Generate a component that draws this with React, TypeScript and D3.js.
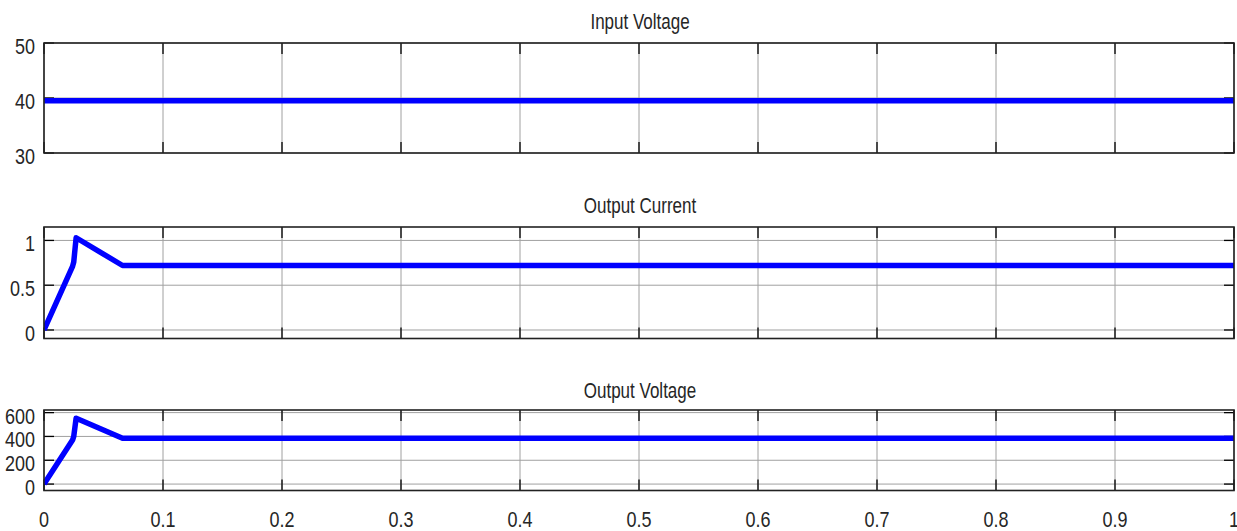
import React from 'react';
import * as d3 from 'd3';

// values
const time = [0, 0.024, 0.025, 0.027, 0.066, 1];
const inputTime = [0, 1];
const inputVoltage = [39.5, 39.5];
const outputCurrent = [0, 0.71, 0.76, 1.03, 0.72, 0.72];
const outputVoltage = [0, 370, 400, 553, 385, 385];

const xTicks = [0, 0.1, 0.2, 0.3, 0.4, 0.5, 0.6, 0.7, 0.8, 0.9, 1];
const xTickLabels = ['0', '0.1', '0.2', '0.3', '0.4', '0.5', '0.6', '0.7', '0.8', '0.9', '1'];

const titles = ['Input Voltage', 'Output Current', 'Output Voltage'];
const yTicks1 = [30, 40, 50];
const yTicks2 = [0, 0.5, 1];
const yTicks3 = [0, 200, 400, 600];

const width = 1237;
const height = 531;
const left = 44;
const right = 1234;
const textColor = '#262626';
const font = '"Liberation Sans", Arial, sans-serif';

const panels = [
  { title: titles[0], xs: inputTime, ys: inputVoltage, domain: [30, 50], ticks: yTicks1, top: 43, bottom: 153, titleY: 29 },
  { title: titles[1], xs: time, ys: outputCurrent, domain: [-0.095, 1.15], ticks: yTicks2, top: 227, bottom: 338.5, titleY: 213 },
  { title: titles[2], xs: time, ys: outputVoltage, domain: [-54, 622], ticks: yTicks3, top: 410, bottom: 490.5, titleY: 398 },
];

const Label = ({ x, y, anchor, size, sy, children }) => (
  <text
    transform={`translate(${x},${y}) scale(1,${sy})`}
    textAnchor={anchor}
    fontFamily={font}
    fontSize={size}
    fill={textColor}
  >
    {children}
  </text>
);

const App = () => {
  const xScale = d3.scaleLinear().domain([0, 1]).range([left, right]);

  return (
    <svg width={width} height={height} style={{ position: 'absolute', left: 0, top: 0, background: '#fff' }}>
      <rect x={0} y={0} width={width} height={height} fill="#fff" />
      {panels.map((p, i) => {
        const yScale = d3.scaleLinear().domain(p.domain).range([p.bottom, p.top]);
        const line = d3.line<number>()
          .x((_, j) => xScale(p.xs[j]))
          .y((d) => yScale(d));
        const clipId = `clip-${i}`;
        return (
          <g key={i}>
            <defs>
              <clipPath id={clipId}>
                <rect x={left} y={p.top} width={right - left} height={p.bottom - p.top} />
              </clipPath>
            </defs>
            {/* grid */}
            {xTicks.map((t) => (
              <line key={'gx' + t} x1={xScale(t)} x2={xScale(t)} y1={p.top} y2={p.bottom} stroke="#a0a0a0" strokeWidth={1} />
            ))}
            {p.ticks.map((t) => (
              <line key={'gy' + t} x1={left} x2={right} y1={yScale(t)} y2={yScale(t)} stroke="#a0a0a0" strokeWidth={1} />
            ))}
            {/* inner ticks */}
            {xTicks.map((t) => (
              <g key={'tx' + t}>
                <line x1={xScale(t)} x2={xScale(t)} y1={p.top} y2={p.top + 11} stroke="#000" strokeWidth={1.3} />
                <line x1={xScale(t)} x2={xScale(t)} y1={p.bottom} y2={p.bottom - 11} stroke="#000" strokeWidth={1.3} />
              </g>
            ))}
            {p.ticks.map((t) => (
              <g key={'ty' + t}>
                <line x1={left} x2={left + 10} y1={yScale(t)} y2={yScale(t)} stroke="#000" strokeWidth={1.3} />
                <line x1={right} x2={right - 10} y1={yScale(t)} y2={yScale(t)} stroke="#000" strokeWidth={1.3} />
              </g>
            ))}
            <path
              d={line(p.ys) || ''}
              fill="none"
              stroke="#0000ff"
              strokeWidth={5.5}
              strokeLinejoin="round"
              clipPath={`url(#${clipId})`}
            />
            <rect x={left} y={p.top} width={right - left} height={p.bottom - p.top} fill="none" stroke="#222" strokeWidth={1.6} />
            {p.ticks.map((t) => (
              <Label key={'ly' + t} x={35} y={yScale(t) + 11} anchor="end" size={18} sy={1.22}>
                {String(t)}
              </Label>
            ))}
            <Label x={(left + right) / 2 + 1} y={p.titleY} anchor="middle" size={17} sy={1.3}>
              {p.title}
            </Label>
          </g>
        );
      })}
      {xTicks.map((t, i) => (
        <Label key={'lx' + t} x={xScale(t)} y={527} anchor="middle" size={18} sy={1.25}>
          {xTickLabels[i]}
        </Label>
      ))}
    </svg>
  );
};

export default App;
